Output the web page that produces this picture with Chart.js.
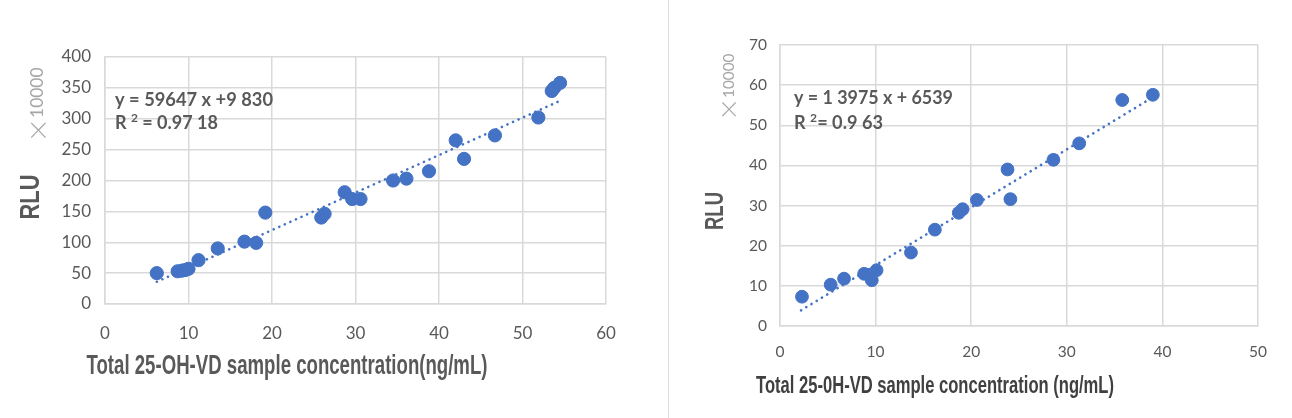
<!DOCTYPE html>
<html>
<head>
<meta charset="utf-8">
<script src="https://cdn.jsdelivr.net/npm/chart.js@4.4.1/dist/chart.umd.min.js"></script>
<style>
	html, body { margin: 0; padding: 0; background: #fff; }
	#wrap { position: relative; width: 1292px; height: 418px; overflow: hidden; }
	.box { position: absolute; top: 0; height: 418px; }
	#boxLeft { left: 0; width: 668px; }
	#boxRight { left: 668px; width: 624px; border-left: 1px solid #dedede; }
</style>
</head>
<body>
<div id="wrap">
	<div class="box" id="boxLeft"><canvas id="chartLeft" width="668" height="418"></canvas></div>
	<div class="box" id="boxRight"><canvas id="chartRight" width="624" height="418"></canvas></div>
</div>
<script>
/* left chart data (RLU x10000) */
let concLeft = [6.2, 8.7, 9.2, 9.6, 10.0, 11.2, 13.5, 16.7, 18.1, 19.2, 25.9, 26.3, 28.7, 29.6, 30.6, 34.5, 36.1, 38.8, 42.0, 43.0, 46.7, 51.9, 53.5, 53.8, 54.5];
let rluLeft = [50, 53, 54, 55, 57, 71, 90, 101, 99, 148, 140, 146, 181, 170, 170, 200, 203, 215, 265, 235, 273, 302, 345, 350, 358];
let trendLeftX = [6.2, 54.5];
let trendLeftY = [36, 329];
let xTicksLeft = [0, 10, 20, 30, 40, 50, 60];
let yTicksLeft = [0, 50, 100, 150, 200, 250, 300, 350, 400];

/* right chart data (RLU x10000) */
let concRight = [2.3, 5.3, 6.7, 8.8, 9.6, 10.1, 13.7, 16.2, 18.7, 19.1, 20.6, 23.8, 24.1, 28.6, 31.3, 35.8, 39.0];
let rluRight = [7.3, 10.3, 11.8, 13.0, 11.4, 13.9, 18.3, 24.0, 28.2, 29.1, 31.4, 39.0, 31.6, 41.4, 45.5, 56.3, 57.6];
let trendRightX = [2.2, 38.8];
let trendRightY = [3.9, 56.7];
let xTicksRight = [0, 10, 20, 30, 40, 50];
let yTicksRight = [0, 10, 20, 30, 40, 50, 60, 70];

let blue = '#4472C4';
let grid = '#d9d9d9';
let textGray = '#595959';

function toPoints(xs, ys){
	return xs.map(function(x, i){ return {x: x, y: ys[i]}; });
}

/* texts placed on the canvas */
let notesPlugin = {
	id: 'notes',
	afterDraw: function(chart){
		let notes = chart.options.plugins.notes || [];
		let ctx = chart.ctx;
		notes.forEach(function(n){
			ctx.save();
			ctx.translate(n.x, n.y);
			if(n.rotate) ctx.rotate(n.rotate);
			ctx.fillStyle = n.color;
			ctx.textBaseline = 'middle';
			let parts = n.parts || [{t: n.text}];
			let fontOf = function(p){ return p.font || (p.sup ? n.supFont : n.font); };
			let total = 0;
			parts.forEach(function(p){
				ctx.font = fontOf(p);
				total += ctx.measureText(p.t).width;
			});
			let scale = 1;
			if(n.width) scale = n.width / total;
			let start = n.align === 'center' ? -total * scale / 2 : 0;
			ctx.translate(start, 0);
			ctx.scale(scale, 1);
			let cx = 0;
			parts.forEach(function(p){
				ctx.font = fontOf(p);
				ctx.textAlign = 'left';
				ctx.fillText(p.t, cx, p.sup ? -5 : 0);
				cx += ctx.measureText(p.t).width;
			});
			ctx.restore();
		});
	}
};

function makeConfig(opt){
	return {
		type: 'scatter',
		data: {
			datasets: [{
				type: 'line',
				data: toPoints(opt.trendX, opt.trendY),
				borderColor: blue,
				borderWidth: 2.6,
				borderDash: [0.1, 6],
				borderCapStyle: 'round',
				pointRadius: 0,
				fill: false
			}, {
				data: toPoints(opt.xs, opt.ys),
				backgroundColor: blue,
				borderColor: blue,
				pointRadius: opt.radius,
				pointHoverRadius: opt.radius
			}]
		},
		options: {
			responsive: false,
			animation: false,
			layout: { padding: { left: 0, top: opt.top, right: opt.right, bottom: 0 } },
			plugins: {
				legend: { display: false },
				tooltip: { enabled: false },
				notes: opt.notes
			},
			scales: {
				x: {
					type: 'linear',
					min: opt.xTicks[0],
					max: opt.xTicks[opt.xTicks.length - 1],
					afterFit: function(s){ s.height = opt.xHeight; },
					grid: { color: grid, lineWidth: 1.5, drawTicks: false },
					border: { color: grid, width: 1.5 },
					ticks: {
						stepSize: opt.xTicks[1] - opt.xTicks[0],
						padding: opt.xPad,
						color: textGray,
						font: { family: 'Lato', size: opt.tickSize }
					}
				},
				y: {
					type: 'linear',
					min: opt.yTicks[0],
					max: opt.yTicks[opt.yTicks.length - 1],
					afterFit: function(s){ s.width = opt.yWidth; },
					grid: { color: grid, lineWidth: 1.5, drawTicks: false },
					border: { color: grid, width: 1.5 },
					ticks: {
						stepSize: opt.yTicks[1] - opt.yTicks[0],
						padding: opt.yPad,
						color: textGray,
						font: { family: 'Lato', size: opt.tickSize }
					}
				}
			}
		},
		plugins: [notesPlugin]
	};
}

let eqFont = 'bold 18px Lato';
let supFont = 'bold 12px Lato';

new Chart(document.getElementById('chartLeft'), makeConfig({
	xs: concLeft, ys: rluLeft, trendX: trendLeftX, trendY: trendLeftY,
	xTicks: xTicksLeft, yTicks: yTicksLeft,
	radius: 6.6, top: 57, right: 62, xHeight: 114, yWidth: 105,
	xPad: 19, yPad: 14, tickSize: 17,
	notes: [
		{ text: 'y = 59647 x +9 830', x: 115, y: 100, width: 158, font: eqFont, color: textGray },
		{ parts: [{t: 'R '}, {t: '2', sup: true}, {t: ' = 0.97 18'}], x: 115, y: 123, width: 103, font: eqFont, supFont: supFont, color: textGray },
		{ text: 'RLU', x: 31, y: 197, rotate: -Math.PI / 2, align: 'center', width: 45, font: 'bold 28px "Liberation Sans", Arial', color: textGray },
		{ parts: [{t: '\u00d7', font: '300 24px "Noto Sans CJK SC", "DejaVu Sans"'}, {t: '10000'}], x: 38, y: 105, rotate: -Math.PI / 2, align: 'center', width: 75, font: '17px Lato', color: '#a6a6a6' },
		{ text: 'Total 25-OH-VD sample concentration(ng/mL)', x: 287, y: 367, align: 'center', width: 401, font: 'bold 27px "Liberation Sans", Arial, sans-serif', color: textGray }
	]
}));

new Chart(document.getElementById('chartRight'), makeConfig({
	xs: concRight, ys: rluRight, trendX: trendRightX, trendY: trendRightY,
	xTicks: xTicksRight, yTicks: yTicksRight,
	radius: 6.4, top: 45, right: 35, xHeight: 92, yWidth: 111,
	xPad: 17, yPad: 13, tickSize: 15.5,
	notes: [
		{ text: 'y = 1 3975 x + 6539', x: 125, y: 98, width: 159, font: eqFont, color: textGray },
		{ parts: [{t: 'R '}, {t: '2', sup: true}, {t: '= 0.9 63'}], x: 125, y: 123, width: 89, font: eqFont, supFont: supFont, color: textGray },
		{ text: 'RLU', x: 47, y: 211, rotate: -Math.PI / 2, align: 'center', width: 38, font: 'bold 25px "Liberation Sans", Arial', color: textGray },
		{ parts: [{t: '\u00d7', font: '300 22px "Noto Sans CJK SC", "DejaVu Sans"'}, {t: '10000'}], x: 60, y: 87, rotate: -Math.PI / 2, align: 'center', width: 67, font: '15px Lato', color: '#a6a6a6' },
		{ text: 'Total 25-0H-VD sample concentration (ng/mL)', x: 266, y: 387, align: 'center', width: 358, font: 'bold 23px "Liberation Sans", Arial, sans-serif', color: '#404040' }
	]
}));
</script>
</body>
</html>
